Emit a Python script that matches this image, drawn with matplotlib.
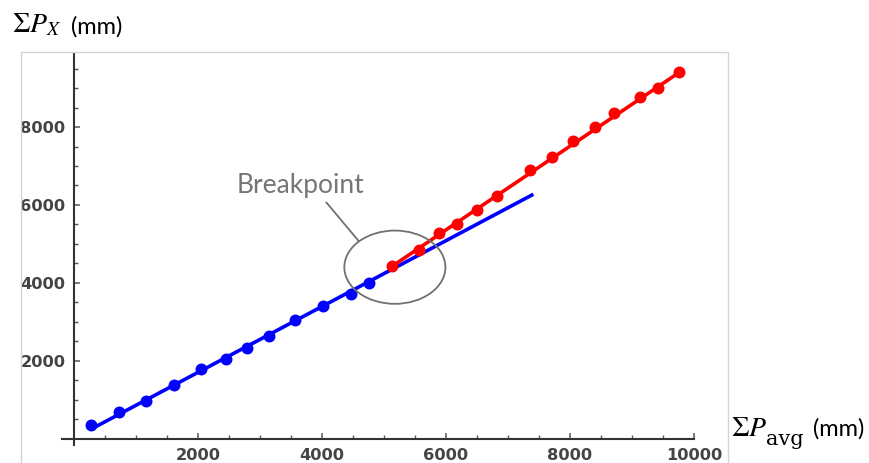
import numpy as np
import matplotlib.pyplot as plt
from matplotlib.patches import Ellipse
from matplotlib.lines import Line2D

# points below the breakpoint (blue) and above it (red)
blue_x = [285, 726, 1161, 1608, 2053, 2447, 2785, 3140, 3570, 4021, 4468, 4753]
blue_y = [359, 675, 974, 1385, 1786, 2043, 2342, 2641, 3051, 3418, 3710, 4008]

red_x = [5134, 5570, 5892, 6172, 6495, 6817, 7355, 7705, 8053, 8403, 8715, 9134, 9414, 9763]
red_y = [4436, 4846, 5274, 5513, 5872, 6231, 6897, 7239, 7649, 7992, 8351, 8761, 9000, 9402]

# fitted lines (start / end)
blue_fit_x = [330, 7410]
blue_fit_y = [290, 6275]
red_fit_x = [5080, 9760]
red_fit_y = [4370, 9400]

# breakpoint annotation
bp_center = (5177, 4403)
bp_width = 1630
bp_height = 1880
bp_label = 'Breakpoint'
bp_label_pos = (2629, 6308)
bp_leader_x = [4075, 4585]
bp_leader_y = [6060, 5090]

xticks = [2000, 4000, 6000, 8000, 10000]
yticks = [2000, 4000, 6000, 8000]

plt.rcParams['mathtext.fontset'] = 'stix'

W, H = 870, 463
fig = plt.figure(figsize=(W / 100, H / 100), dpi=100)
ax = fig.add_axes([62 / W, 18 / H, 632 / W, 392 / H])

axis_col = '#333333'

#Draw fits and points
ax.plot(blue_fit_x, blue_fit_y, c='#0000ff', lw=2.6, solid_capstyle='butt', zorder=3)
ax.plot(red_fit_x, red_fit_y, c='#ff0000', lw=2.6, solid_capstyle='butt', zorder=3)
ax.plot(blue_x, blue_y, 'o', c='#0000ff', ms=8.6, mew=0, zorder=4)
ax.plot(red_x, red_y, 'o', c='#ff0000', ms=8.6, mew=0, zorder=4)

#Breakpoint ellipse
ax.add_patch(Ellipse(bp_center, bp_width, bp_height, fill=False, ec='#707070', lw=1.3, zorder=5))
ax.plot(bp_leader_x, bp_leader_y, c='#707070', lw=1.3, zorder=5)
ax.text(bp_label_pos[0], bp_label_pos[1], bp_label, fontsize=19, family='Lato',
        color='#767676', ha='left', va='baseline')

#Axes through the origin, mathematica style
ax.set_xlim(-190, 10000)
ax.set_ylim(-160, 9900)
for s in ['top', 'right']:
    ax.spines[s].set_visible(False)
ax.spines['left'].set_position(('data', 0))
ax.spines['bottom'].set_position(('data', 0))
for s in ['left', 'bottom']:
    ax.spines[s].set_color(axis_col)
    ax.spines[s].set_linewidth(1.5)

ax.set_xticks(xticks)
ax.set_yticks(yticks)
ax.set_xticks(np.arange(500, 10000, 500), minor=True)
ax.set_yticks(np.arange(500, 9900, 500), minor=True)
ax.tick_params(which='major', direction='in', length=4.5, width=1.1, color='#555555')
ax.tick_params(which='minor', direction='in', length=2.6, width=1.0, color='#555555')
ax.tick_params(axis='x', which='major', pad=6.5)
ax.tick_params(axis='y', which='major', pad=6)
for lab in ax.get_xticklabels() + ax.get_yticklabels():
    lab.set_family('DejaVu Sans')
    lab.set_fontweight('bold')
    lab.set_fontsize(11.7)
    lab.set_color('#444444')
ax.patch.set_alpha(0)

#Light gray frame of the pasted image
frame_col = '#d4d4d4'
fig.add_artist(Line2D([21 / W, 21 / W, 728 / W, 728 / W], [0, 1 - 52 / H, 1 - 52 / H, 0],
                      transform=fig.transFigure, c=frame_col, lw=1.0))

#Label Plot
fig.text(12 / W, 1 - 32 / H, r'$\Sigma P_X$', fontsize=20, ha='left', va='baseline')
fig.text(71 / W, 1 - 34 / H, '(mm)', fontsize=17, family='Lato', ha='left', va='baseline')
fig.text(731 / W, 1 - 436 / H, r'$\Sigma P$', fontsize=20, ha='left', va='baseline')
fig.text(766 / W, 1 - 445 / H, 'avg', fontsize=15, family='DejaVu Serif', ha='left', va='baseline')
fig.text(813 / W, 1 - 436 / H, '(mm)', fontsize=17, family='Lato', ha='left', va='baseline')

plt.savefig('out.png', dpi=100)
